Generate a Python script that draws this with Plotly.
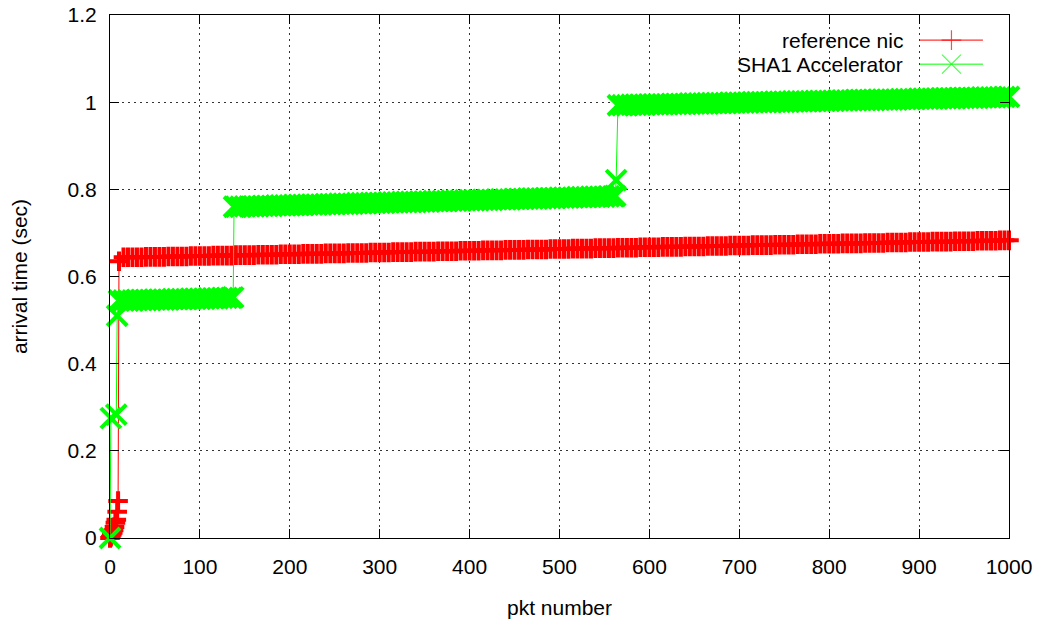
import plotly.graph_objects as go

# ---------------- data ----------------
# reference nic
ref_early_pkt = [0, 1, 2, 3, 4, 5, 6, 7, 8, 9, 10]
ref_early_val = [0.0, 0.003, 0.008, 0.012, 0.018, 0.025, 0.035, 0.042, 0.06, 0.085, 0.635]
ref_band_pkt = list(range(15, 1001, 5))
ref_band_val = [
    0.644, 0.644, 0.644, 0.644, 0.644, 0.645, 0.645, 0.645, 0.645, 0.645, 0.646, 0.646, 0.646, 0.646, 0.646, 0.647, 0.647, 0.647, 0.647, 0.647,
    0.648, 0.648, 0.648, 0.648, 0.648, 0.649, 0.649, 0.649, 0.649, 0.649, 0.650, 0.650, 0.650, 0.650, 0.650, 0.651, 0.651, 0.651, 0.651, 0.651,
    0.652, 0.652, 0.652, 0.652, 0.652, 0.653, 0.653, 0.653, 0.653, 0.653, 0.654, 0.654, 0.654, 0.654, 0.654, 0.655, 0.655, 0.655, 0.655, 0.655,
    0.656, 0.656, 0.656, 0.656, 0.656, 0.657, 0.657, 0.657, 0.657, 0.657, 0.658, 0.658, 0.658, 0.658, 0.658, 0.659, 0.659, 0.659, 0.659, 0.659,
    0.660, 0.660, 0.660, 0.660, 0.660, 0.661, 0.661, 0.661, 0.661, 0.661, 0.662, 0.662, 0.662, 0.662, 0.662, 0.663, 0.663, 0.663, 0.663, 0.663,
    0.664, 0.664, 0.664, 0.664, 0.664, 0.665, 0.665, 0.665, 0.665, 0.665, 0.666, 0.666, 0.666, 0.666, 0.666, 0.667, 0.667, 0.667, 0.667, 0.667,
    0.668, 0.668, 0.668, 0.668, 0.668, 0.669, 0.669, 0.669, 0.669, 0.669, 0.670, 0.670, 0.670, 0.670, 0.670, 0.671, 0.671, 0.671, 0.671, 0.671,
    0.672, 0.672, 0.672, 0.672, 0.672, 0.673, 0.673, 0.673, 0.673, 0.673, 0.674, 0.674, 0.674, 0.674, 0.674, 0.675, 0.675, 0.675, 0.675, 0.675,
    0.676, 0.676, 0.676, 0.676, 0.676, 0.677, 0.677, 0.677, 0.677, 0.677, 0.678, 0.678, 0.678, 0.678, 0.678, 0.679, 0.679, 0.679, 0.679, 0.679,
    0.680, 0.680, 0.680, 0.680, 0.680, 0.681, 0.681, 0.681, 0.681, 0.681, 0.682, 0.682, 0.682, 0.682, 0.682, 0.683, 0.683, 0.683,
]

# SHA1 Accelerator
sha_early_pkt = [0, 1, 7, 8]
sha_early_val = [0.0, 0.275, 0.283, 0.51]
sha_b1_pkt = list(range(10, 136, 5)) + [137]
sha_b1_val = [
    0.545, 0.545, 0.545, 0.545, 0.546, 0.546, 0.546, 0.546, 0.547, 0.547,
    0.547, 0.547, 0.548, 0.548, 0.548, 0.548, 0.549, 0.549, 0.549, 0.549,
    0.550, 0.550, 0.550, 0.551, 0.551, 0.551, 0.552,
]
sha_b2_pkt = [138] + list(range(140, 561, 5)) + [562]
sha_b2_val = [
    0.760,
    0.760, 0.760, 0.761, 0.761, 0.761, 0.761, 0.762, 0.762, 0.762, 0.763,
    0.763, 0.763, 0.763, 0.764, 0.764, 0.764, 0.765, 0.765, 0.765, 0.765,
    0.766, 0.766, 0.766, 0.767, 0.767, 0.767, 0.767, 0.768, 0.768, 0.768,
    0.769, 0.769, 0.769, 0.769, 0.770, 0.770, 0.770, 0.771, 0.771, 0.771,
    0.771, 0.772, 0.772, 0.772, 0.773, 0.773, 0.773, 0.773, 0.774, 0.774,
    0.774, 0.775, 0.775, 0.775, 0.775, 0.776, 0.776, 0.776, 0.777, 0.777,
    0.777, 0.777, 0.778, 0.778, 0.778, 0.779, 0.779, 0.779, 0.779, 0.780,
    0.780, 0.780, 0.781, 0.781, 0.781, 0.781, 0.782, 0.782, 0.782, 0.783,
    0.783, 0.783, 0.783, 0.784, 0.784,
    0.785,
]
sha_jump_pkt = [563]
sha_jump_val = [0.821]
sha_b3_pkt = list(range(565, 1001, 5))
sha_b3_val = [
    0.993, 0.993, 0.993, 0.994, 0.994, 0.994, 0.994, 0.995, 0.995, 0.995,
    0.995, 0.995, 0.996, 0.996, 0.996, 0.996, 0.997, 0.997, 0.997, 0.997,
    0.997, 0.998, 0.998, 0.998, 0.998, 0.999, 0.999, 0.999, 0.999, 0.999,
    1.000, 1.000, 1.000, 1.000, 1.000, 1.001, 1.001, 1.001, 1.001, 1.002,
    1.002, 1.002, 1.002, 1.002, 1.003, 1.003, 1.003, 1.003, 1.003, 1.004,
    1.004, 1.004, 1.004, 1.005, 1.005, 1.005, 1.005, 1.005, 1.006, 1.006,
    1.006, 1.006, 1.006, 1.007, 1.007, 1.007, 1.007, 1.008, 1.008, 1.008,
    1.008, 1.008, 1.009, 1.009, 1.009, 1.009, 1.010, 1.010, 1.010, 1.010,
    1.010, 1.011, 1.011, 1.011, 1.011, 1.011, 1.012, 1.012,
]

series_names = ["reference nic", "SHA1 Accelerator"]
x_ticks = [0, 100, 200, 300, 400, 500, 600, 700, 800, 900, 1000]
y_ticks = [0, 0.2, 0.4, 0.6, 0.8, 1.0, 1.2]

ref_pkt = ref_early_pkt + ref_band_pkt
ref_val = ref_early_val + ref_band_val
sha_pkt = sha_early_pkt + sha_b1_pkt + sha_b2_pkt + sha_jump_pkt + sha_b3_pkt
sha_val = sha_early_val + sha_b1_val + sha_b2_val + sha_jump_val + sha_b3_val
assert len(ref_pkt) == len(ref_val) and len(sha_pkt) == len(sha_val)

RED = "#ff0000"
GREEN = "#00ff00"
FONT = "Liberation Sans, Arial, sans-serif"

fig = go.Figure()

fig.add_trace(go.Scatter(
    x=ref_pkt, y=ref_val, mode="lines+markers", name=series_names[0],
    line=dict(color=RED, width=1),
    marker=dict(symbol="cross-thin", size=14, line=dict(color=RED, width=4)),
    cliponaxis=False, showlegend=False,
))
fig.add_trace(go.Scatter(
    x=sha_pkt, y=sha_val, mode="lines+markers", name=series_names[1],
    line=dict(color=GREEN, width=1),
    marker=dict(symbol="x-thin", size=20, line=dict(color=GREEN, width=4)),
    cliponaxis=False, showlegend=False,
))

# gnuplot-style key: text on the left, sample on the right
key_rows = [0.952, 0.906]
key_symbols = [("cross-thin", 14, RED), ("x-thin", 19, GREEN)]
for name, yk, (sym, sz, col) in zip(series_names, key_rows, key_symbols):
    fig.add_trace(go.Scatter(
        x=[0.901, 0.936, 0.971], y=[yk, yk, yk], xaxis="x2", yaxis="y2",
        mode="lines+markers", line=dict(color=col, width=1),
        marker=dict(symbol=sym, size=[0, sz, 0], line=dict(color=col, width=1.2)),
        showlegend=False, hoverinfo="skip", cliponaxis=False,
    ))
    fig.add_annotation(
        x=0.884, y=yk, xref="paper", yref="paper", text=name, showarrow=False,
        xanchor="right", yanchor="middle", font=dict(family=FONT, size=21, color="#000"),
    )

axis_common = dict(
    showline=True, linecolor="#000", linewidth=1, mirror="ticks",
    ticks="inside", ticklen=9, tickcolor="#000", tickwidth=1,
    showgrid=True, gridcolor="#333", griddash="1.5px,4.5px", gridwidth=1,
    zeroline=False, tickfont=dict(family=FONT, size=21, color="#000"),
    automargin=False, ticklabeloverflow="allow",
)

fig.update_layout(
    width=1048, height=619,
    margin=dict(l=110, r=39, t=15, b=81),
    paper_bgcolor="#fff", plot_bgcolor="#fff",
    font=dict(family=FONT, size=21, color="#000"),
    xaxis=dict(range=[0, 1000], tickvals=x_ticks, ticklabelstandoff=10, **axis_common,
               title=dict(text="pkt number", font=dict(family=FONT, size=21), standoff=25)),
    yaxis=dict(range=[0, 1.2], tickvals=y_ticks, ticklabelstandoff=8, **axis_common,
               title=dict(text="arrival time (sec)", font=dict(family=FONT, size=21), standoff=34)),
    xaxis2=dict(overlaying="x", range=[0, 1], visible=False),
    yaxis2=dict(overlaying="y", range=[0, 1], visible=False),
    showlegend=False,
)

# remove the default 8px page margin so the figure fills the window exactly
fig.write_html(
    "out.html",
    config={"displayModeBar": False},
    post_script="document.body.style.margin='0px';",
)
